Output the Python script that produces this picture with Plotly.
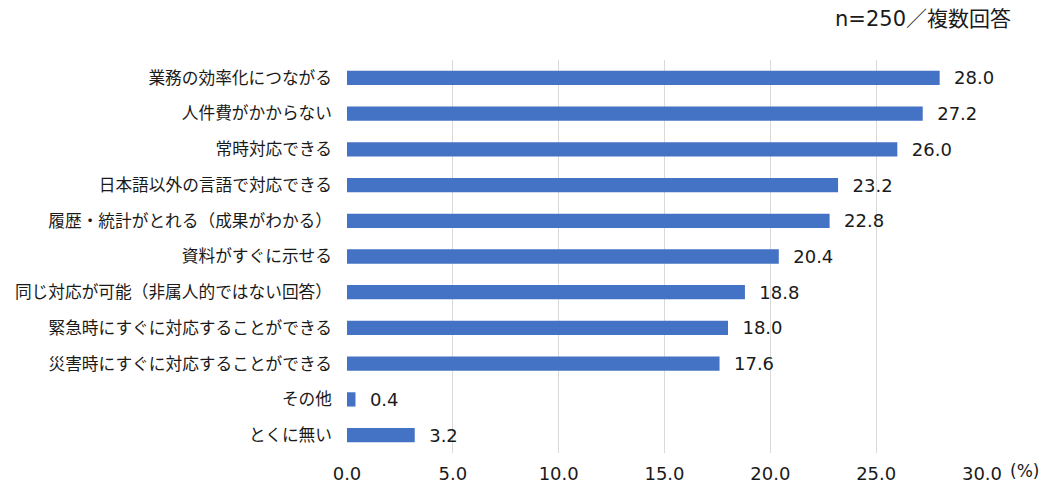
import plotly.graph_objects as go

categories = [
    "業務の効率化につながる",
    "人件費がかからない",
    "常時対応できる",
    "日本語以外の言語で対応できる",
    "履歴・統計がとれる（成果がわかる）",
    "資料がすぐに示せる",
    "同じ対応が可能（非属人的ではない回答）",
    "緊急時にすぐに対応することができる",
    "災害時にすぐに対応することができる",
    "その他",
    "とくに無い",
]
values = [28.0, 27.2, 26.0, 23.2, 22.8, 20.4, 18.8, 18.0, 17.6, 0.4, 3.2]
tick_vals = [0, 5, 10, 15, 20, 25, 30]
tick_text = ["0.0", "5.0", "10.0", "15.0", "20.0", "25.0", "30.0"]

FONT = "DejaVu Sans, Noto Sans CJK JP"
CJK = "Noto Sans CJK JP"
TXT = "#1a1a1a"

fig = go.Figure(go.Bar(
    x=values,
    y=categories,
    orientation="h",
    marker=dict(color="#4472C4", line=dict(width=0)),
    width=0.4,
    text=[f"\u00a0\u00a0{v:.1f}" for v in values],
    textposition="outside",
    constraintext="none",
    textfont=dict(family=FONT, size=18, color=TXT),
    cliponaxis=False,
))

fig.update_layout(
    width=1052, height=498,
    margin=dict(l=347, r=70, t=60, b=45),
    paper_bgcolor="white", plot_bgcolor="white",
    font=dict(family=FONT, size=16, color=TXT),
    showlegend=False,
    xaxis=dict(
        range=[0, 30], tickvals=tick_vals, ticktext=tick_text,
        showgrid=True, gridcolor="#d9d9d9", gridwidth=1,
        zeroline=False, showline=False, ticks="",
        ticklabelstandoff=8,
        tickfont=dict(family=FONT, size=18, color=TXT),
    ),
    yaxis=dict(
        autorange="reversed", showgrid=False, showline=False, ticks="",
        ticklen=0, ticklabelstandoff=14,
        tickfont=dict(family=CJK, size=16.7, color=TXT),
    ),
    annotations=[
        dict(text="n=250／複数回答", xref="paper", yref="paper", x=1.0488, y=1.0,
             yshift=41, xanchor="right", yanchor="middle", showarrow=False,
             font=dict(family=FONT, size=21, color=TXT)),
        dict(text="(%)", xref="paper", yref="paper", x=1.0, y=0, xshift=26,
             yshift=-18, xanchor="left", yanchor="middle", showarrow=False,
             font=dict(family=FONT, size=17, color=TXT)),
    ],
)

fig.write_html("out.html")
